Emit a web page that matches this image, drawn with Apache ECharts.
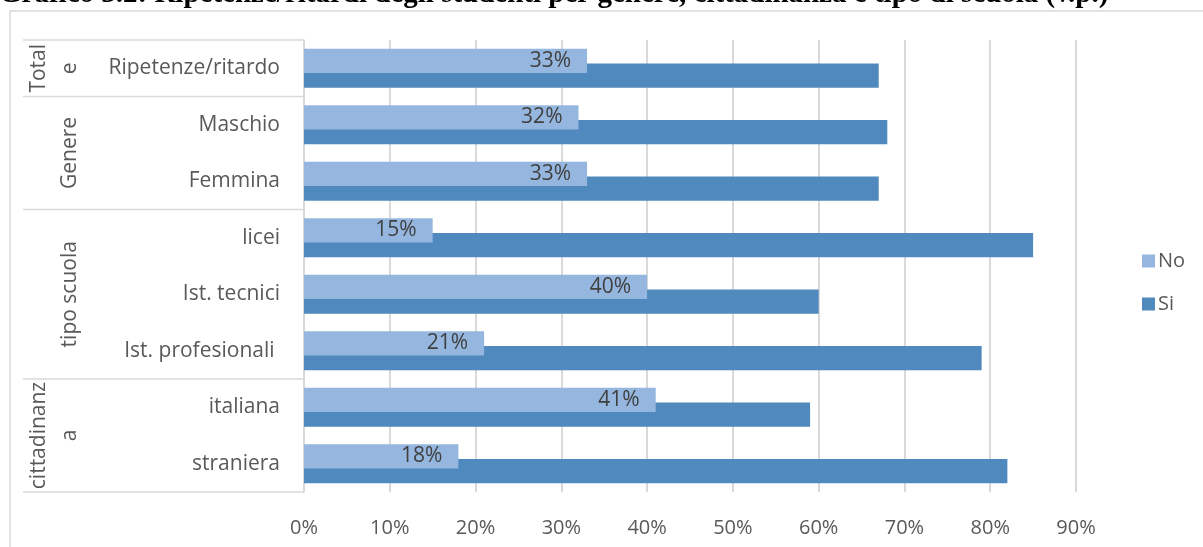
<!DOCTYPE html>
<html>
<head>
<meta charset="utf-8">
<script src="https://cdn.jsdelivr.net/npm/echarts@6/dist/echarts.min.js"></script>
<style>
html,body{margin:0;padding:0;background:#fff;}
#chart{width:1203px;height:547px;}
</style>
</head>
<body>
<div id="chart"></div>
<script>
const titleText = 'Grafico 3.2: Ripetenze/ritardi degli studenti per genere, cittadinanza e tipo di scuola (v.p.)';
const categories = ['Ripetenze/ritardo', 'Maschio', 'Femmina', 'licei', 'Ist. tecnici', 'Ist. profesionali ', 'italiana', 'straniera'];
const noValues = [33, 32, 33, 15, 40, 21, 41, 18];
const siValues = [67, 68, 67, 85, 60, 79, 59, 82];
const groupLabels = [['Total', 'e'], ['Genere'], ['tipo scuola'], ['cittadinanz', 'a']];
const groupSizes = [1, 2, 3, 2];
const xTicks = [0, 10, 20, 30, 40, 50, 60, 70, 80, 90];

const chart = echarts.init(document.getElementById('chart'), null, {renderer: 'canvas'});
const FONT = 'Open Sans';
const GRAY = '#d9d9d9';

const option = {
  animation: false,
  textStyle: {fontFamily: FONT},
  grid: {left: 304, right: 127, top: 40, bottom: 55, containLabel: false},
  legend: {
    orient: 'vertical',
    left: 1137,
    top: 246,
    itemWidth: 13,
    itemHeight: 13,
    itemGap: 23,
    itemStyle: {borderWidth: 0},
    icon: 'rect',
    textStyle: {fontSize: 20, color: '#595959', fontFamily: FONT, padding: [0, 0, 0, -2]},
    data: ['No', 'Si']
  },
  xAxis: {
    type: 'value',
    min: xTicks[0],
    max: xTicks[xTicks.length - 1],
    interval: 10,
    axisLine: {show: false},
    axisTick: {show: false},
    splitLine: {show: true, lineStyle: {color: GRAY, width: 2}},
    axisLabel: {formatter: '{value}%', fontSize: 20, color: '#595959', margin: 26}
  },
  yAxis: {
    type: 'category',
    inverse: true,
    data: categories,
    axisLine: {show: true, lineStyle: {color: GRAY, width: 1.5}},
    axisTick: {show: false},
    axisLabel: {fontSize: 21, color: '#595959', margin: 24}
  },
  series: [
    {
      name: 'No',
      type: 'bar',
      data: noValues,
      z: 3,
      barGap: '-40%',
      barCategoryGap: '31%',
      itemStyle: {color: '#95b7df'},
      label: {
        show: true,
        position: 'insideRight',
        distance: 16,
        formatter: '{c}%',
        fontSize: 21,
        color: '#404040',
        fontFamily: FONT
      }
    },
    {
      name: 'Si',
      type: 'bar',
      data: siValues,
      z: 2,
      barGap: '-40%',
      barCategoryGap: '31%',
      itemStyle: {color: '#4f89bd'}
    }
  ]
};
chart.setOption(option);

function buildGraphics() {
  const c0 = chart.convertToPixel({yAxisIndex: 0}, categories[0]);
  const c1 = chart.convertToPixel({yAxisIndex: 0}, categories[1]);
  const band = c1 - c0;
  const axisX = chart.convertToPixel({xAxisIndex: 0}, 0);
  const els = [];
  els.push({
    type: 'rect', silent: true,
    shape: {x: 10, y: 11, width: 1400, height: 700},
    style: {fill: null, stroke: GRAY, lineWidth: 1.5}
  });
  els.push({
    type: 'text', silent: true, x: -1, y: -5,
    style: {text: titleText, font: 'bold 29px "Liberation Serif"', fill: '#000', textAlign: 'left', textVerticalAlign: 'middle'}
  });
  let start = 0;
  const bounds = [c0 - band / 2];
  groupSizes.forEach((n, gi) => {
    const top = c0 + (start - 0.5) * band;
    const bottom = c0 + (start + n - 0.5) * band;
    bounds.push(bottom);
    const mid = (top + bottom) / 2;
    const lines = groupLabels[gi];
    lines.forEach((t, li) => {
      const x = 70 - (lines.length - 1 - li) * 31;
      els.push({
        type: 'text', silent: true, x: x, y: mid, rotation: Math.PI / 2,
        style: {text: t, font: '21px "' + FONT + '"', fill: '#595959', textAlign: 'center', textVerticalAlign: 'middle'}
      });
    });
    start += n;
  });
  bounds.forEach(b => {
    els.push({
      type: 'line', silent: true,
      shape: {x1: 23, y1: b, x2: axisX, y2: b},
      style: {stroke: GRAY, lineWidth: 1.5}
    });
  });
  chart.setOption({graphic: {elements: els}});
}
buildGraphics();
</script>
</body>
</html>
